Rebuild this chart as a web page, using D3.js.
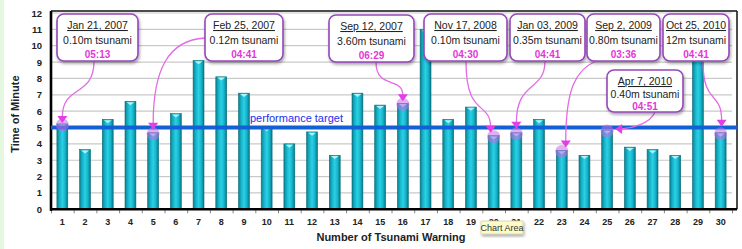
<!DOCTYPE html>
<html><head><meta charset="utf-8">
<script src="https://cdn.jsdelivr.net/npm/d3@7/dist/d3.min.js"></script>
<style>body{margin:0;background:#fff;}svg{display:block;font-family:"Liberation Sans",Arial,sans-serif;}</style>
</head><body>
<svg id="c" width="742" height="249"></svg>
<script>
// ---- data ----
const warnings = d3.range(1, 31);
const minutes = [5.22,3.65,5.5,6.6,4.68,5.85,9.1,8.1,7.1,5.0,4.0,4.73,3.3,7.1,6.37,6.48,11.0,5.5,6.25,4.5,4.68,5.5,3.6,3.3,4.85,3.8,3.65,3.3,9.6,4.68];
const yTicks = d3.range(0, 13);
const target = 5;
const targetLabel = "performance target";
const eventWarning = [1, 5, 16, 20, 21, 23, 25, 30];
const eventDate = ["Jan 21, 2007","Feb 25, 2007","Sep 12, 2007","Nov 17, 2008","Jan 03, 2009","Sep 2, 2009","Apr 7, 2010","Oct 25, 2010"];
const eventWave = ["0.10m tsunami","0.12m tsunami","3.60m tsunami","0.10m tsunami","0.35m tsunami","0.80m tsunami","0.40m tsunami","12m tsunami"];
const eventTime = ["05:13","04:41","06:29","04:30","04:41","03:36","04:51","04:41"];
const xTitle = "Number of Tsunami Warning";
const yTitle = "Time of Minute";

// ---- layout ----
const svg = d3.select("#c");
const L = 51, R = 732, T = 11, B = 209.3;
const x = d3.scaleBand().domain(warnings).range([L, R]).paddingInner(0.52).paddingOuter(0.26);
const y = d3.scaleLinear().domain([0, 12]).range([B, 13]);

svg.append("rect").attr("x",0).attr("y",0).attr("width",4).attr("height",249).attr("fill","#e4f8e0");

const defs = svg.append("defs");
const g1 = defs.append("linearGradient").attr("id","barg").attr("x1","0").attr("x2","1").attr("y1","0").attr("y2","0");
[["0%","#07808f"],["25%","#16b3c9"],["50%","#2bd0e6"],["75%","#17b5cb"],["100%","#067786"]].forEach(s=>g1.append("stop").attr("offset",s[0]).attr("stop-color",s[1]));
const sh = defs.append("filter").attr("id","sh").attr("x","-20%").attr("y","-20%").attr("width","140%").attr("height","150%");
sh.append("feDropShadow").attr("dx",1).attr("dy",2).attr("stdDeviation",1.5).attr("flood-color","#000").attr("flood-opacity",0.35);

// gridlines
svg.append("g").selectAll("line").data(yTicks.filter(d=>d>0)).join("line")
  .attr("x1",L).attr("x2",R).attr("y1",d=>y(d)).attr("y2",d=>y(d))
  .attr("stroke","#c9c9c9").attr("stroke-width",1.2);

// frame
svg.append("line").attr("x1",L).attr("x2",737).attr("y1",T).attr("y2",T).attr("stroke","#111").attr("stroke-width",1.5);
svg.append("line").attr("x1",737).attr("x2",737).attr("y1",T).attr("y2",B).attr("stroke","#111").attr("stroke-width",1.5);

// bars
const bars = svg.append("g");
bars.selectAll("rect").data(warnings).join("rect")
  .attr("x",d=>x(d)).attr("width",x.bandwidth())
  .attr("y",(d,i)=>y(minutes[i])).attr("height",(d,i)=>B-y(minutes[i]))
  .attr("fill","url(#barg)").attr("stroke","#0a6d7a").attr("stroke-width",0.6);
bars.selectAll("path").data(warnings).join("path")
  .attr("d",(d,i)=>{const x0=x(d)+1.5,x1=x(d)+x.bandwidth()-1.5,yt=y(minutes[i])+0.8;return `M${x0},${yt}L${x1},${yt}L${(x0+x1)/2},${yt+3}Z`;})
  .attr("fill","#bff6fb").attr("opacity",0.9);

// axes
const yAxis = svg.append("g").attr("transform",`translate(${L},0)`).call(d3.axisLeft(y).tickValues(yTicks).tickSize(0).tickPadding(9));
yAxis.select(".domain").remove();
yAxis.selectAll("text").attr("font-size",9.5).attr("font-weight","bold").attr("fill","#222");
const xAxis = svg.append("g").attr("transform",`translate(0,${B})`).call(d3.axisBottom(x).tickSize(0).tickPadding(9));
xAxis.select(".domain").remove();
xAxis.selectAll("text").attr("font-size",9).attr("font-weight","bold").attr("fill","#222");
// minor ticks between categories
svg.append("g").selectAll("line").data(d3.range(0,31)).join("line")
  .attr("x1",i=>L+i*x.step()+0.5).attr("x2",i=>L+i*x.step()+0.5).attr("y1",B).attr("y2",B+4)
  .attr("stroke","#666").attr("stroke-width",0.8);
svg.append("line").attr("x1",L).attr("x2",L).attr("y1",T).attr("y2",B+1.5).attr("stroke","#000").attr("stroke-width",2.6);
svg.append("line").attr("x1",L-1).attr("x2",737).attr("y1",B).attr("y2",B).attr("stroke","#000").attr("stroke-width",2.6);

// target line
svg.append("line").attr("x1",L).attr("x2",737.5).attr("y1",y(target)).attr("y2",y(target))
  .attr("stroke","#1360d6").attr("stroke-width",4);
svg.append("text").attr("x",250).attr("y",y(target)-6).attr("font-size",11).attr("fill","#2030ee").text(targetLabel);

// titles
svg.append("text").attr("transform",`translate(19,${(T+B)/2+4}) rotate(-90)`).attr("text-anchor","middle")
  .attr("font-size",11).attr("font-weight","bold").attr("fill","#222").text(yTitle);
svg.append("text").attr("x",391).attr("y",241).attr("text-anchor","middle")
  .attr("font-size",11).attr("font-weight","bold").attr("fill","#222").text(xTitle);

// annotation markers at bar tops
const ann = svg.append("g");
ann.selectAll("circle").data(eventWarning).join("circle")
  .attr("cx",d=>x(d)+x.bandwidth()/2).attr("cy",d=>y(minutes[d-1])+1)
  .attr("r",6.5).attr("fill","rgba(196,110,230,0.55)");

// boxes: [left, top, width, height], arrow start, arrow control points, tip
const boxes = [
  {b:[57,14,81,47]},
  {b:[205,14,78,47]},
  {b:[329,15,85,47]},
  {b:[424,14,83,47]},
  {b:[510,14,75,47]},
  {b:[587,14,73,47]},
  {b:[607,70,76,42]},
  {b:[663,14,66,47]}
];
function arrowPath(i){
  const d = eventWarning[i], bx = x(d)+x.bandwidth()/2, by = y(minutes[d-1]);
  const b = boxes[i].b;
  switch(i){
    case 0: return {p:`M94,${b[1]+b[3]} C94,98 ${bx},84 ${bx},${by-7}`, tip:[bx,by-1], dir:"down"};
    case 1: return {p:`M${b[0]},38 C168,40 ${bx},70 ${bx},${by-9}`, tip:[bx,by-3], dir:"down"};
    case 2: return {p:`M376,${b[1]+b[3]} C376,90 ${bx},76 ${bx},${by-8}`, tip:[bx,by-2], dir:"down"};
    case 3: return {p:`M466,${b[1]+b[3]} C466,118 ${bx-4},100 ${bx-3},${by-9}`, tip:[bx-3,by-3], dir:"down"};
    case 4: return {p:`M545,${b[1]+b[3]} C545,92 ${bx},80 ${bx},${by-10}`, tip:[bx,by-4], dir:"down"};
    case 5: return {p:`M596,${b[1]+b[3]} C576,70 ${bx+4},88 ${bx+4},${by-9}`, tip:[bx+4,by-3], dir:"down"};
    case 6: return {p:`M655,${b[1]+b[3]} C650,124 632,128 ${bx+14},${by-1}`, tip:[bx+8,by-1], dir:"left"};
    case 7: return {p:`M703,${b[1]+b[3]} C703,106 ${bx+1},90 ${bx+1},${by-12}`, tip:[bx+1,by-6], dir:"down"};
  }
}
boxes.forEach((bx,i)=>{
  const a = arrowPath(i);
  ann.append("path").attr("d",a.p).attr("fill","none").attr("stroke","#e26be6").attr("stroke-width",1.3);
  const [tx,ty] = a.tip;
  const tri = a.dir==="down" ? `M${tx-5},${ty-7}L${tx+5},${ty-7}L${tx},${ty}Z` : `M${tx+7},${ty-5}L${tx+7},${ty+5}L${tx},${ty}Z`;
  ann.append("path").attr("d",tri).attr("fill","#e43ee6");
});
const bg = svg.append("g").selectAll("g").data(boxes).join("g");
bg.append("rect").attr("x",d=>d.b[0]).attr("y",d=>d.b[1]).attr("width",d=>d.b[2]).attr("height",d=>d.b[3])
  .attr("rx",7).attr("fill","#fff").attr("stroke","#9448b8").attr("stroke-width",1.6).attr("filter","url(#sh)");
bg.append("text").attr("x",d=>d.b[0]+d.b[2]/2).attr("y",d=>d.b[1]+15).attr("text-anchor","middle")
  .attr("font-size",10.5).attr("fill","#222").attr("text-decoration","underline").text((d,i)=>eventDate[i]);
bg.append("text").attr("x",d=>d.b[0]+d.b[2]/2).attr("y",(d,i)=>d.b[1]+(d.b[3]>45?29.5:28)).attr("text-anchor","middle")
  .attr("font-size",10.5).attr("fill","#222").text((d,i)=>eventWave[i]);
bg.append("text").attr("x",d=>d.b[0]+d.b[2]/2).attr("y",(d,i)=>d.b[1]+(d.b[3]>45?43.5:40)).attr("text-anchor","middle")
  .attr("font-size",10).attr("font-weight","bold").attr("fill","#e436d6").text((d,i)=>eventTime[i]);

// tooltip
const tt = svg.append("g");
tt.append("rect").attr("x",481).attr("y",221).attr("width",42).attr("height",13).attr("fill","#fdfbc8").attr("stroke","#c9c49a").attr("stroke-width",0.6).attr("filter","url(#sh)");
tt.append("text").attr("x",502).attr("y",231).attr("text-anchor","middle").attr("font-size",9).attr("fill","#333").text("Chart Area");
</script>
</body></html>
